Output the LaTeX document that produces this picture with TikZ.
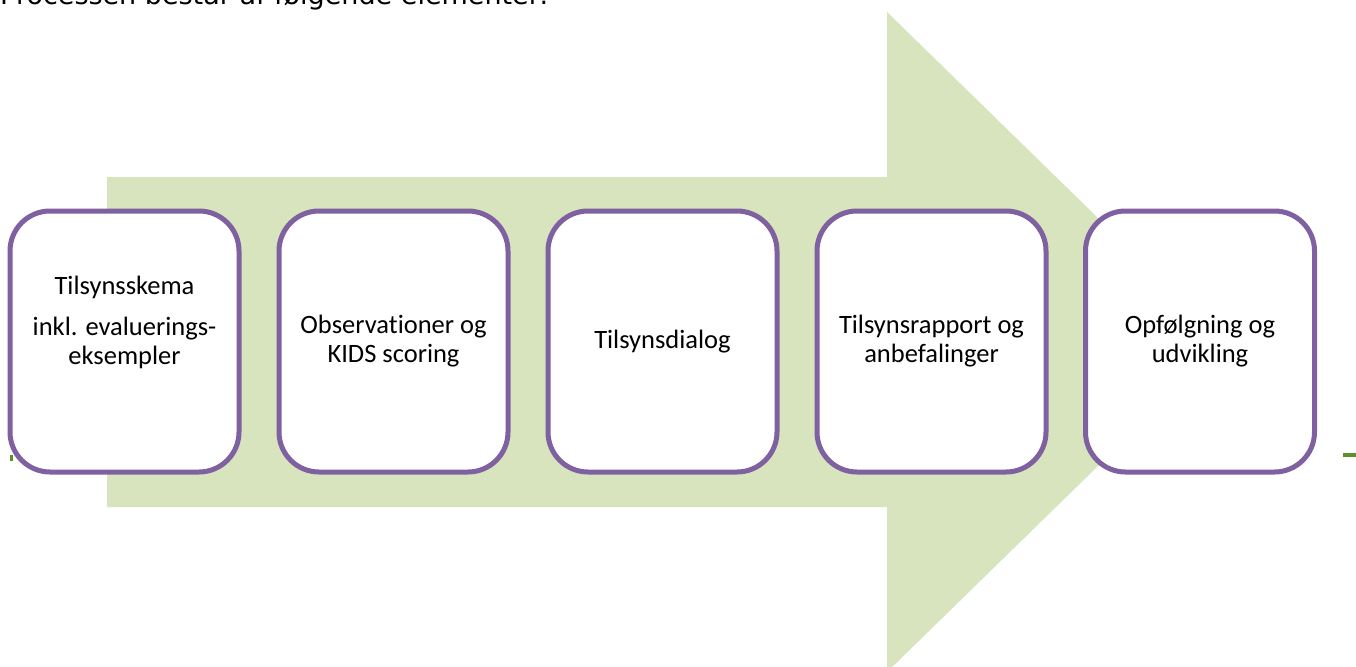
\documentclass[tikz,border=0pt]{standalone}
\usepackage{fontspec}
\setmainfont{Carlito}[Ligatures=NoCommon]
\newfontfamily\topfont{DejaVu Sans}
\definecolor{arrowgreen}{HTML}{D7E4BD}
\definecolor{boxpurple}{HTML}{7F60A0}
\definecolor{markgreen}{HTML}{5E8F2C}
\tikzset{
  stepbox/.style={draw=boxpurple, line width=5pt, fill=white, rounded corners=40pt,
    minimum width=229pt, minimum height=261pt, inner sep=0pt},
  steptext/.style={align=center, inner sep=0pt, font=\fontsize{26.5}{29}\selectfont},
}
\begin{document}
\begin{tikzpicture}[x=1pt,y=-1pt]
\clip (0,0) rectangle (1356,666);
\fill[white] (0,0) rectangle (1356,666);
\node[anchor=base west, inner sep=0pt, font=\topfont\fontsize{27}{30}\selectfont] (title) at (0,5) {Processen består af følgende elementer:};
\fill[arrowgreen] (107,177) -- (887,177) -- (887,12) -- (1225,342) -- (887,672) -- (887,507) -- (107,507) -- cycle;
\node[stepbox] (s1) at (124.5,341.5) {};
\node[stepbox] (s2) at (393.5,341.5) {};
\node[stepbox] (s3) at (662.5,341.5) {};
\node[stepbox] (s4) at (931.5,341.5) {};
\node[stepbox] (s5) at (1200,341.5) {};
\node[steptext] (t1) at ([yshift=19pt]s1.center) {Tilsynsskema\\[12pt]inkl. evaluerings-\\eksempler};
\node[steptext] (t2) at ([yshift=0pt]s2.center) {Observationer og\\KIDS scoring};
\node[steptext] (t3) at ([yshift=0pt]s3.center) {Tilsynsdialog};
\node[steptext] (t4) at ([yshift=0pt]s4.center) {Tilsynsrapport og\\anbefalinger};
\node[steptext] (t5) at ([yshift=0pt]s5.center) {Opfølgning og\\udvikling};
\fill[markgreen] (10,455) rectangle (13,461);
\fill[markgreen] (1343,453) rectangle (1356,457);
\end{tikzpicture}
\end{document}
